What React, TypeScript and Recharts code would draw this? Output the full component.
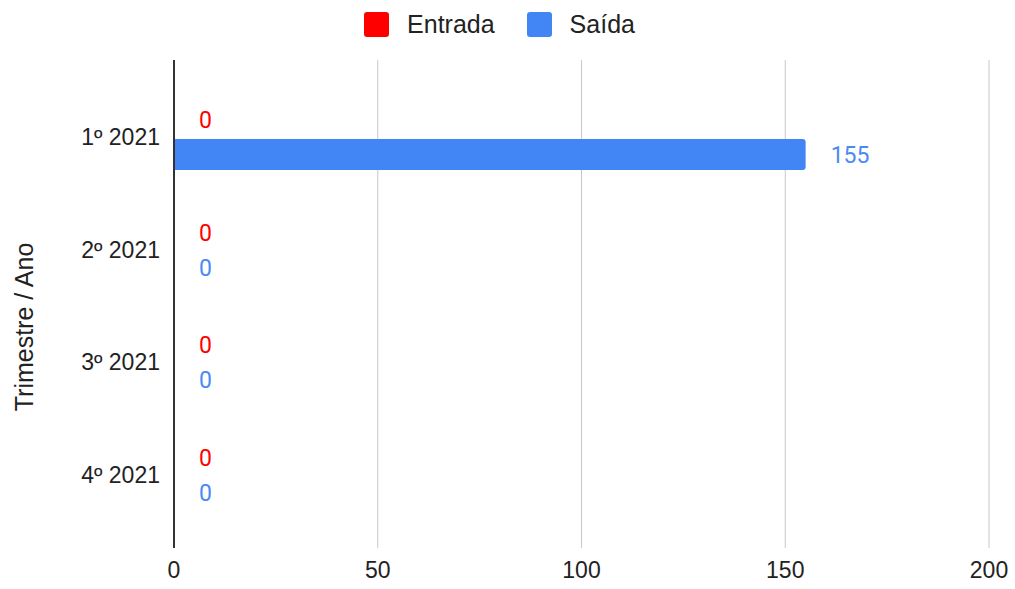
import React from "react";
import {
  BarChart,
  Bar,
  XAxis,
  YAxis,
  CartesianGrid,
  Legend,
  Rectangle,
} from "recharts";

const categories = ["1º 2021", "2º 2021", "3º 2021", "4º 2021"];
const entrada = [0, 0, 0, 0];
const saida = [155, 0, 0, 0];
const xTicks = [0, 50, 100, 150, 200];

const data = categories.map((name, i) => ({
  name,
  Entrada: entrada[i],
  Saida: saida[i],
}));

const FONT = "'Liberation Sans', Arial, sans-serif";
const LABEL_FONT = "Roboto, Arial, sans-serif";

// draws the bar and its value label (also for zero-length bars)
const barWithLabel = (key: string, labelColor: string) => (props: any) => {
  const { x, y, width, height, fill, radius, payload } = props;
  const v = payload ? payload[key] : props.value;
  return (
    <g>
      {width > 0 && (
        <Rectangle x={x} y={y} width={width} height={height} fill={fill} radius={radius} />
      )}
      <text
        x={x + (width || 0) + 25}
        y={y + height / 2 + 1}
        dominantBaseline="central"
        fill={labelColor}
        fontSize={23}
        fontFamily={LABEL_FONT}
      >
        {v}
      </text>
    </g>
  );
};

function LegendContent({ payload }: any) {
  return (
    <div
      style={{
        display: "flex",
        justifyContent: "center",
        alignItems: "center",
        fontFamily: FONT,
        fontSize: 25,
        color: "#222",
        height: 30,
        paddingRight: 16,
      }}
    >
      {(payload || []).map((p: any) => (
        <div
          key={p.value}
          style={{ display: "flex", alignItems: "center", margin: "0 16px" }}
        >
          <span
            style={{
              width: 25,
              height: 25,
              borderRadius: 3,
              background: p.color,
              display: "inline-block",
              marginRight: 18,
            }}
          />
          <span>{p.value === "Saida" ? "Saída" : p.value}</span>
        </div>
      ))}
    </div>
  );
}

export default function App() {
  return (
    <div style={{ position: "absolute", left: 0, top: 0 }}>
      <BarChart
        width={1015}
        height={589}
        data={data}
        layout="vertical"
        margin={{ top: 30, right: 26, bottom: 0, left: 0 }}
        barSize={31}
        barGap={4}
      >
        <CartesianGrid horizontal={false} stroke="#c8c8c8" />
        <XAxis
          type="number"
          domain={[0, 200]}
          ticks={xTicks}
          axisLine={false}
          tickLine={false}
          tickSize={0}
          tickMargin={14}
          height={41}
          tick={{ fill: "#222", fontSize: 23, fontFamily: FONT }}
        />
        <YAxis
          type="category"
          dataKey="name"
          width={174}
          padding={{ top: 21, bottom: 17 }}
          tickLine={false}
          tickSize={0}
          tickMargin={14}
          axisLine={{ stroke: "#333", strokeWidth: 2 }}
          tick={{ fill: "#222", fontSize: 23, fontFamily: FONT }}
          label={{
            content: () => (
              <text
                x={24}
                y={327}
                transform="rotate(-90 24 327)"
                textAnchor="middle"
                dominantBaseline="central"
                fill="#222"
                fontSize={25}
                fontFamily={FONT}
              >
                Trimestre / Ano
              </text>
            ),
          }}
        />
        <Legend
          verticalAlign="top"
          content={<LegendContent />}
          wrapperStyle={{ position: "absolute", top: 9, left: 0, width: 1015, height: 30 }}
        />
        <Bar
          dataKey="Entrada"
          name="Entrada"
          fill="#ff0000"
          shape={barWithLabel("Entrada", "#ff0000")}
          isAnimationActive={false}
        />
        <Bar
          dataKey="Saida"
          name="Saida"
          fill="#4285f4"
          radius={[0, 3, 3, 0]}
          shape={barWithLabel("Saida", "#4a8af4")}
          isAnimationActive={false}
        />
      </BarChart>
    </div>
  );
}
